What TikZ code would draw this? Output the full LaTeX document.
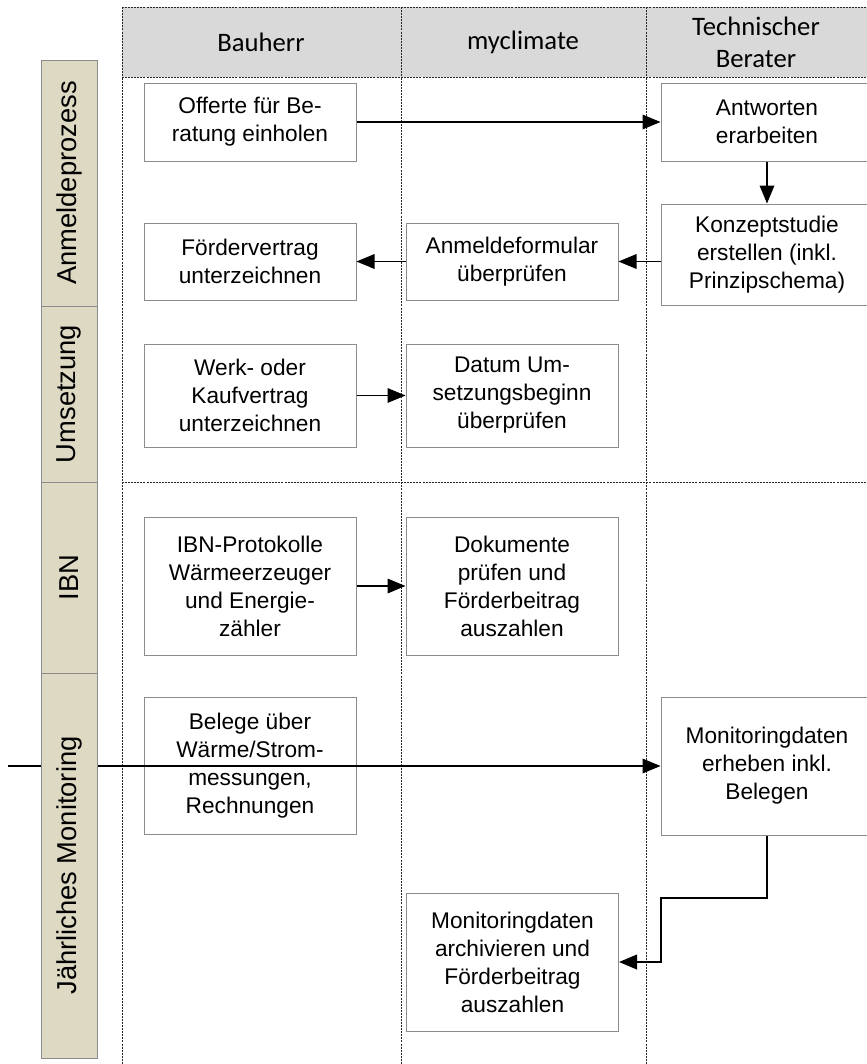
\documentclass[tikz,border=0pt]{standalone}
\usepackage{fontspec}
\setmainfont{Liberation Sans}
\newfontfamily\headfont{Carlito}
\usetikzlibrary{arrows.meta}
\definecolor{headgray}{HTML}{D9D9D9}
\definecolor{lanebeige}{HTML}{DDD9C3}
\definecolor{boxline}{HTML}{8C8C8C}
\tikzset{
  task/.style={rectangle, draw=boxline, line width=0.75pt, fill=white, minimum width=159pt, inner sep=2pt, align=center, font=\fontsize{17}{21}\selectfont},
  lane/.style={rectangle, draw=boxline, fill=lanebeige, line width=0.75pt, minimum height=42pt, inner sep=0pt, rotate=90, font=\fontsize{20.5}{24}\selectfont},
  head/.style={align=center, inner sep=0pt, font=\headfont\fontsize{20}{24}\selectfont},
  flow/.style={draw=black, line width=0.9pt, -{Triangle[length=13.5pt,width=11pt]}},
  grid/.style={draw=black!85, line width=0.7pt, dash pattern=on 1.5pt off 0.8pt},
}
\begin{document}
\begin{tikzpicture}[x=0.75pt, y=-0.75pt]
\useasboundingbox (0,0) rectangle (867,1064);
\clip (0,0) rectangle (867,1064);
\fill[headgray] (122,7) rectangle (867,77);
\draw[grid] (122,7) -- (867,7);
\draw[grid] (122,77) -- (867,77);
\draw[grid] (122,482) -- (867,482);
\draw[grid] (122,7) -- (122,1064);
\draw[grid] (401,7) -- (401,1064);
\draw[grid] (646,7) -- (646,1064);
\node[head] (hbau) at (261,42) {Bauherr};
\node[head] (hmyc) at (523,42) {myclimate};
\node[head] (htec) at (756,42) {Technischer\\Berater};
\node[task, minimum height=58.5pt] (offerte) at (250,122) {Offerte für Be-\\ratung einholen};
\node[task, minimum height=58.5pt] (antw) at (767,122) {Antworten\\erarbeiten};
\node[task, minimum height=75.75pt] (konz) at (767,254.5) {Konzeptstudie\\erstellen (inkl.\\Prinzipschema)};
\node[task, minimum height=57.75pt] (anmf) at (512,261.5) {Anmeldeformular\\überprüfen};
\node[task, minimum height=57.75pt] (foerd) at (250,261.5) {Fördervertrag\\unterzeichnen};
\node[task, minimum height=77.25pt] (werk) at (250,395.5) {Werk- oder\\Kaufvertrag\\unterzeichnen};
\node[task, minimum height=77.25pt] (datum) at (512,395.5) {Datum Um-\\setzungsbeginn\\überprüfen};
\node[task, minimum height=103.5pt] (ibnp) at (250,586) {IBN-Protokolle\\Wärmeerzeuger\\und Energie-\\zähler};
\node[task, minimum height=103.5pt] (doku) at (512,586) {Dokumente\\prüfen und\\Förderbeitrag\\auszahlen};
\node[task, minimum height=102.75pt] (beleg) at (250,765.5) {Belege über\\Wärme/Strom-\\messungen,\\Rechnungen};
\node[task, minimum height=103.5pt] (mon) at (767,766) {Monitoringdaten\\erheben inkl.\\Belegen};
\node[task, minimum height=103.5pt] (arch) at (512.5,962) {Monitoringdaten\\archivieren und\\Förderbeitrag\\auszahlen};
\coordinate (mstart) at (8,766);
\coordinate (bend) at (661,898);
\draw[flow] (offerte) -- (antw);
\draw[flow] (antw) -- (konz);
\draw[flow] (konz.west |- anmf.east) -- (anmf.east);
\draw[flow] (anmf) -- (foerd);
\draw[flow] (werk) -- (datum);
\draw[flow] (ibnp) -- (doku);
\draw[flow] (mstart) -- (mon.west);
\draw[flow, line width=1.3pt] (mon.south) -- (mon.south |- bend) -- (bend) -- (bend |- arch.east) -- (arch.east);
\node[lane, minimum width=184.5pt] (lanm) at (69,183) {Anmeldeprozess};
\node[lane, minimum width=132pt] (lums) at (69,394) {Umsetzung};
\node[lane, minimum width=143.25pt] (libn) at (69,577.5) {IBN};
\node[lane, minimum width=288.75pt] (lmon) at (69,865.5) {Jährliches Monitoring};
\end{tikzpicture}
\end{document}
